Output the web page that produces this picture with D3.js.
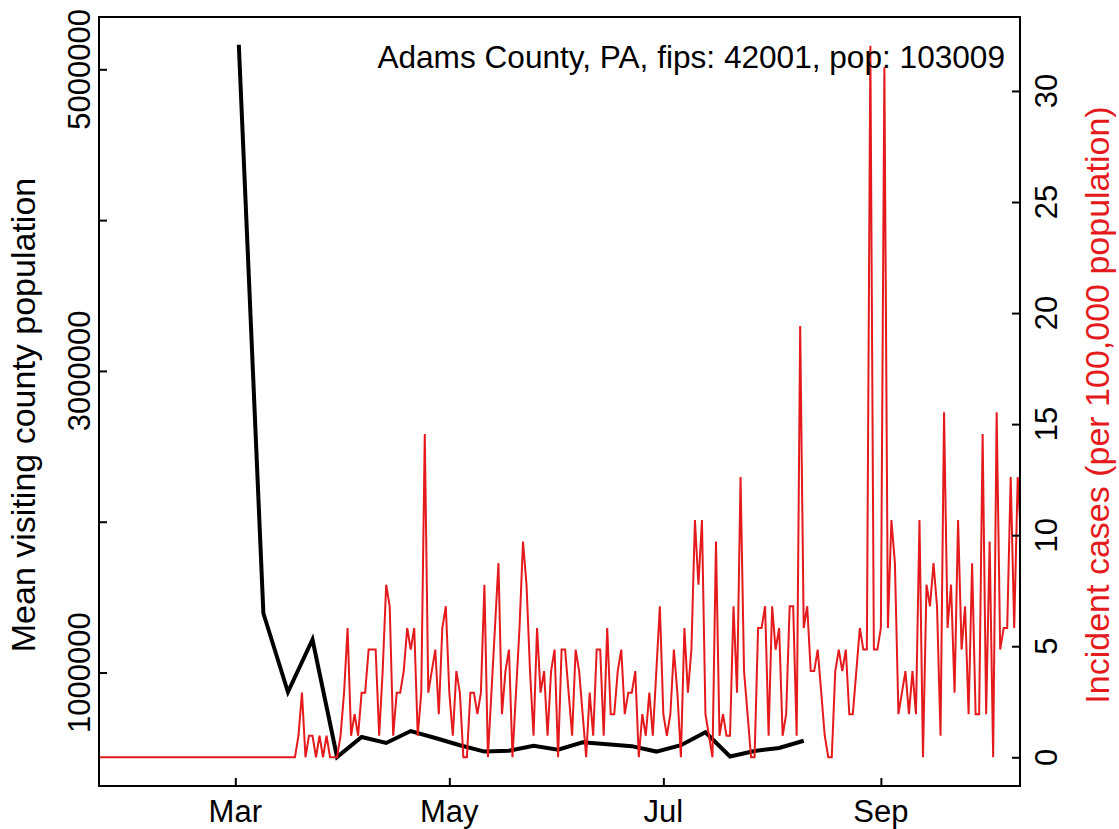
<!DOCTYPE html>
<html>
<head>
<meta charset="utf-8">
<script src="https://cdn.jsdelivr.net/npm/d3@7"></script>
<style>
  html, body { margin: 0; padding: 0; background: #fff; }
  svg { display: block; font-family: "Liberation Sans", Arial, Helvetica, sans-serif; }
</style>
</head>
<body>
<svg id="chart" width="1119" height="829"></svg>
<script>
// ---------- data ----------
const titleText = "Adams County, PA, fips: 42001, pop: 103009";
const leftLabel = "Mean visiting county population";
const rightLabel = "Incident cases (per 100,000 population)";

// weekly mean visiting county population (black line)
const visitDates = ["2020-03-02","2020-03-09","2020-03-16","2020-03-23","2020-03-30","2020-04-06",
  "2020-04-13","2020-04-20","2020-04-27","2020-05-04","2020-05-11","2020-05-18","2020-05-25",
  "2020-06-01","2020-06-08","2020-06-15","2020-06-22","2020-06-29","2020-07-06","2020-07-13",
  "2020-07-20","2020-07-27","2020-08-03","2020-08-10"];
const visitValues = [5163000,1393000,871000,1219000,440000,573000,533000,612000,566000,518000,
  476000,481000,514000,489000,537000,525000,512000,476000,518000,604000,443000,480000,500000,548000];

// daily incident cases per 100,000 (red line), starting 2020-01-22
const caseStart = "2020-01-22";
const caseValues = [
  0,0,0,0,0,0,0,0,0,0, 0,0,0,0,0,0,0,0,0,0, 0,0,0,0,0,0,0,0,0,0,
  0,0,0,0,0,0,0,0,0,0, 0,0,0,0,0,0,0,0,0,0, 0,0,0,0,0,0,0,
  0.97,2.91,0,0.97,0.97,0,0.97,0,0.97,0,0,0,0.97,2.91,5.82,0.97,1.94,0.97,2.91,2.91,
  4.85,4.85,4.85,0.97,3.88,7.77,6.80,0.97,2.91,2.91,3.88,5.82,4.85,5.82,0.97,2.91,
  14.56,2.91,3.88,4.85,1.94,5.82,6.80,2.91,0.97,3.88,2.91,0,0,2.91,2.91,1.94,2.91,
  7.77,0,2.91,5.82,8.74,1.94,3.88,4.85,0,2.91,5.82,9.71,7.77,3.88,0.97,5.82,2.91,
  3.88,0.97,3.88,4.85,0,4.85,4.85,2.91,0.97,4.85,3.88,1.94,0,2.91,0.97,4.85,4.85,
  0.97,5.82,1.94,1.94,3.88,4.85,1.94,2.91,2.91,3.88,0,1.94,0.97,2.91,0.97,3.88,
  6.80,1.94,0.97,1.94,4.85,2.91,0,5.82,2.91,4.85,10.68,7.77,10.68,1.94,0.97,0,
  9.71,0.97,1.94,0.97,0.97,6.80,2.91,12.62,3.88,1.94,0,0,5.82,5.82,6.80,0.97,6.80,
  4.85,5.82,0.97,1.94,6.80,6.80,0.97,19.42,5.82,6.80,3.88,3.88,4.85,2.91,0.97,0,0,
  3.88,4.85,3.88,4.85,1.94,1.94,3.88,5.82,4.85,4.85,32.04,4.85,4.85,5.82,31.07,
  5.82,10.68,8.74,1.94,2.91,3.88,1.94,3.88,1.94,10.68,0,7.77,6.80,8.74,6.80,0.97,
  15.53,5.82,7.77,2.91,10.68,4.85,6.80,1.94,8.74,1.94,1.94,14.56,1.94,9.71,0,15.53,
  4.85,5.82,5.82,12.62,5.82,12.62,9.71
];

const xDomain = ["2020-01-22T03:36:00Z", "2020-10-10T15:36:00Z"];
const leftDomain = [247700, 5346800];
const rightDomain = [-1.293, 33.33];
const leftTicks = [1000000, 2000000, 3000000, 4000000, 5000000];
const leftTickLabels = ["1000000", "", "3000000", "", "5000000"];
const rightTicks = [0, 5, 10, 15, 20, 25, 30];
const monthTicks = ["2020-03-01", "2020-05-01", "2020-07-01", "2020-09-01"];
const monthLabels = ["Mar", "May", "Jul", "Sep"];

// ---------- layout ----------
const plot = { left: 99, right: 1020, top: 17, bottom: 786 };
const red = "#E41A1C";
const fs = 31;
const fsTitle = 31.6;
const fsLab = 34;

const parseDay = d3.utcParse("%Y-%m-%d");
const parseTime = d3.isoParse;

const x = d3.scaleUtc().domain(xDomain.map(parseTime)).range([plot.left, plot.right]);
const yL = d3.scaleLinear().domain(leftDomain).range([plot.bottom, plot.top]);
const yR = d3.scaleLinear().domain(rightDomain).range([plot.bottom, plot.top]);

const svg = d3.select("#chart");

svg.append("defs").append("clipPath").attr("id", "clip")
  .append("rect").attr("x", plot.left).attr("y", plot.top)
  .attr("width", plot.right - plot.left).attr("height", plot.bottom - plot.top);

// black line
const visitData = visitDates.map((d, i) => ({ date: parseDay(d), v: visitValues[i] }));
svg.append("path")
  .datum(visitData)
  .attr("clip-path", "url(#clip)")
  .attr("fill", "none").attr("stroke", "#000").attr("stroke-width", 4)
  .attr("stroke-linejoin", "miter")
  .attr("d", d3.line().x(d => x(d.date)).y(d => yL(d.v)));

// red line
const start = parseDay(caseStart);
const caseData = caseValues.map((v, i) => ({ date: d3.utcDay.offset(start, i), v }));
svg.append("path")
  .datum(caseData)
  .attr("clip-path", "url(#clip)")
  .attr("fill", "none").attr("stroke", red).attr("stroke-width", 2)
  .attr("stroke-linejoin", "miter")
  .attr("d", d3.line().x(d => x(d.date)).y(d => yR(d.v)));

// axes (inward ticks)
const gL = svg.append("g").attr("transform", `translate(${plot.left},0)`)
  .call(d3.axisLeft(yL).tickValues(leftTicks).tickSizeInner(-8).tickSizeOuter(0).tickFormat(""));
const gR = svg.append("g").attr("transform", `translate(${plot.right},0)`)
  .call(d3.axisRight(yR).tickValues(rightTicks).tickSizeInner(-8).tickSizeOuter(0).tickFormat(""));
const gB = svg.append("g").attr("transform", `translate(0,${plot.bottom})`)
  .call(d3.axisBottom(x).tickValues(monthTicks.map(parseDay)).tickSizeInner(-8).tickSizeOuter(0).tickFormat(""));
[gL, gR, gB].forEach(g => {
  g.select(".domain").remove();
  g.selectAll(".tick line").attr("stroke", "#000").attr("stroke-width", 2);
});

// box
svg.append("rect")
  .attr("x", plot.left).attr("y", plot.top)
  .attr("width", plot.right - plot.left).attr("height", plot.bottom - plot.top)
  .attr("fill", "none").attr("stroke", "#000").attr("stroke-width", 2);

// left tick labels (rotated)
leftTicks.forEach((t, i) => {
  if (!leftTickLabels[i]) return;
  svg.append("text")
    .attr("transform", `translate(90,${yL(t)}) rotate(-90)`)
    .attr("text-anchor", "middle").attr("font-size", fs).attr("fill", "#000")
    .text(leftTickLabels[i]);
});
// right tick labels (rotated)
rightTicks.forEach(t => {
  svg.append("text")
    .attr("transform", `translate(1057,${yR(t)}) rotate(-90)`)
    .attr("text-anchor", "middle").attr("font-size", fs).attr("fill", "#000")
    .text(String(t));
});
// month labels
monthTicks.forEach((m, i) => {
  svg.append("text")
    .attr("x", x(parseDay(m))).attr("y", 822)
    .attr("text-anchor", "middle").attr("font-size", fs).attr("fill", "#000")
    .text(monthLabels[i]);
});

// axis titles
svg.append("text")
  .attr("transform", `translate(35,415) rotate(-90)`)
  .attr("text-anchor", "middle").attr("font-size", fsLab).attr("fill", "#000")
  .text(leftLabel);
svg.append("text")
  .attr("transform", `translate(1109,405) rotate(-90)`)
  .attr("text-anchor", "middle").attr("font-size", fsLab).attr("fill", red)
  .text(rightLabel);

// title / legend text
svg.append("text")
  .attr("x", 1005).attr("y", 68)
  .attr("text-anchor", "end").attr("font-size", fsTitle).attr("fill", "#000")
  .text(titleText);
</script>
</body>
</html>
